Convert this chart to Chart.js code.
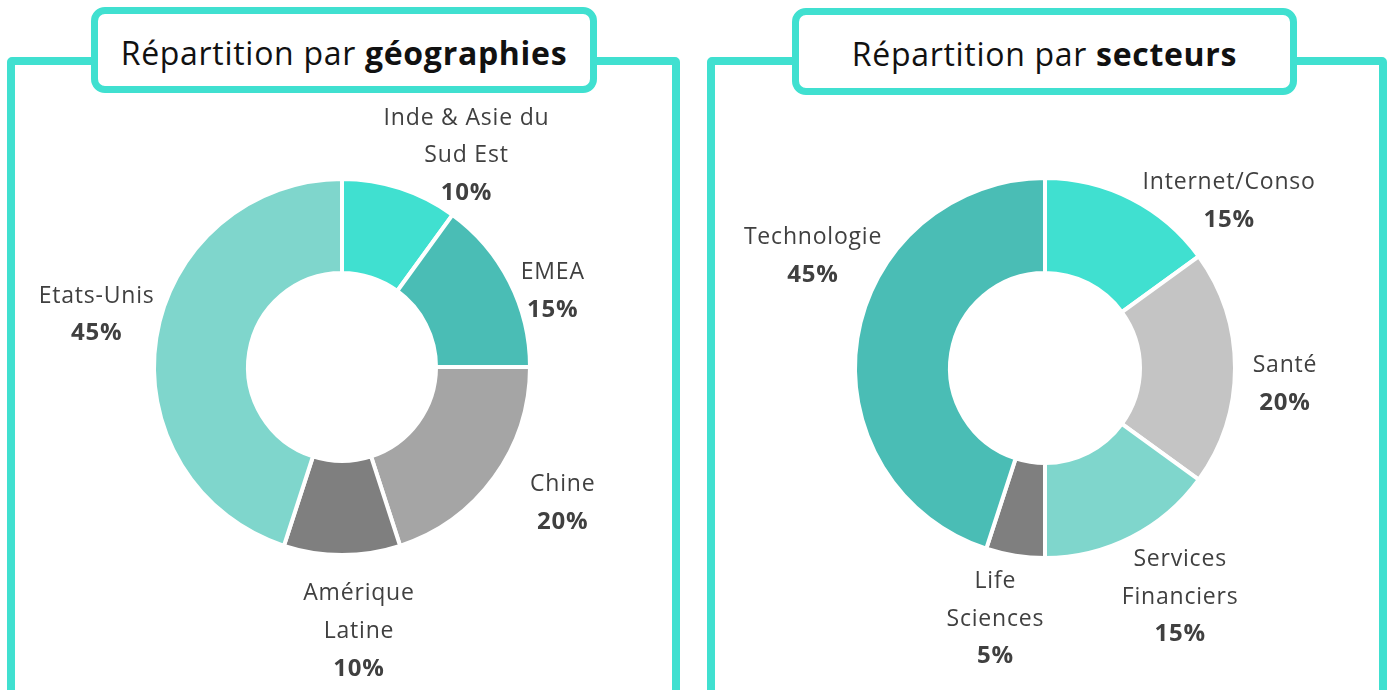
<!DOCTYPE html>
<html lang="fr">
<head>
<meta charset="utf-8">
<script src="https://cdn.jsdelivr.net/npm/chart.js@4.4.0/dist/chart.umd.min.js"></script>
<style>
  body { margin: 0; width: 1390px; height: 690px; overflow: hidden; background: #fff; position: relative; font-family: 'Open Sans', sans-serif; }
  .frame { position: absolute; box-sizing: border-box; border: 8px solid #40E0D0; border-radius: 5px; z-index: 1; }
  .tab { position: absolute; box-sizing: border-box; border: 7px solid #40E0D0; border-radius: 14px; background: #fff;
         display: flex; align-items: center; justify-content: center; font-size: 32px; letter-spacing: 0.7px; color: #111; z-index: 3; white-space: nowrap; padding-top: 4px; }
  .tab b { font-weight: 700; margin-left: 9px; }
  canvas { position: absolute; top: 0; z-index: 2; }
</style>
</head>
<body>
<div class="frame" style="left:7px; top:57px; width:673px; height:645px;"></div>
<div class="frame" style="left:707px; top:57px; width:680px; height:645px;"></div>
<div class="tab" style="left:91px; top:7px; width:506px; height:86px;">Répartition par<b>géographies</b></div>
<div class="tab" style="left:792px; top:8px; width:505px; height:87px;">Répartition par<b>secteurs</b></div>
<canvas id="geo-chart" width="695" height="690" style="left:0px;"></canvas>
<canvas id="sector-chart" width="695" height="690" style="left:695px;"></canvas>
<script>
// Geographies
const geoLabels = ['Inde & Asie du\nSud Est', 'EMEA', 'Chine', 'Amérique\nLatine', 'Etats-Unis'];
const geoValues = [10, 15, 20, 10, 45];
const geoColors = ['#40E0D0', '#4ABDB5', '#A5A5A5', '#7F7F7F', '#7FD6CC'];

// Sectors
const sectorLabels = ['Internet/Conso', 'Santé', 'Services\nFinanciers', 'Life\nSciences', 'Technologie'];
const sectorValues = [15, 20, 15, 5, 45];
const sectorColors = ['#40E0D0', '#C4C4C4', '#7FD6CC', '#7F7F7F', '#4ABDB5'];

// label placement tweaks (pixels, relative to the slice direction)
const geoNudges = [[49, 21], [-7, 35], [23, -7], [17, 20], [-4, -14]];
const sectorNudges = [[72, 53], [-7, 16], [23, 9], [-11, 7], [12, -73]];

// Draws category name + percentage outside each slice
const outsideLabels = {
  id: 'outsideLabels',
  afterDatasetsDraw(chart, args, opts) {
    const ctx = chart.ctx;
    const meta = chart.getDatasetMeta(0);
    const values = chart.data.datasets[0].data;
    const total = values.reduce((a, b) => a + b, 0);

    meta.data.forEach((arc, i) => {
      const p = arc.getProps(['x', 'y', 'startAngle', 'endAngle', 'outerRadius'], true);
      const mid = (p.startAngle + p.endAngle) / 2;
      const r = p.outerRadius * opts.distance;
      const nudge = opts.nudges[i] || [0, 0];
      const cx = p.x + Math.cos(mid) * r + nudge[0];
      const cy = p.y + Math.sin(mid) * r + nudge[1];

      const lines = String(chart.data.labels[i]).split('\n');
      const pct = Math.round(values[i] / total * 100) + '%';
      let y = cy - lines.length / 2 * opts.lineHeight;

      ctx.save();
      ctx.textAlign = 'center';
      ctx.textBaseline = 'middle';
      ctx.fillStyle = opts.color;
      ctx.font = opts.font;
      if ('letterSpacing' in ctx) ctx.letterSpacing = opts.spacing;
      lines.forEach(line => {
        ctx.fillText(line, cx, y);
        y += opts.lineHeight;
      });
      ctx.font = opts.boldFont;
      ctx.fillText(pct, cx, y);
      ctx.restore();
    });
  }
};

function renderDoughnut(canvasId, labels, values, colors, padding, nudges) {
  const ctx = document.getElementById(canvasId).getContext('2d');
  return new Chart(ctx, {
    type: 'doughnut',
    data: {
      labels: labels,
      datasets: [{
        data: values,
        backgroundColor: colors,
        borderColor: '#ffffff',
        borderWidth: 4
      }]
    },
    options: {
      responsive: false,
      animation: false,
      cutout: '50%',
      layout: { padding: padding },
      plugins: {
        legend: { display: false },
        tooltip: { enabled: false },
        outsideLabels: {
          distance: 1.3,
          nudges: nudges,
          lineHeight: 37.5,
          color: '#404040',
          spacing: '0.8px',
          font: '23px "Open Sans", sans-serif',
          boldFont: 'bold 24px "Open Sans", sans-serif'
        }
      }
    },
    plugins: [outsideLabels]
  });
}

renderDoughnut('geo-chart', geoLabels, geoValues, geoColors,
  { left: 152, top: 177, right: 163, bottom: 133 }, geoNudges);
renderDoughnut('sector-chart', sectorLabels, sectorValues, sectorColors,
  { left: 158, top: 176, right: 153, bottom: 130 }, sectorNudges);
</script>
</body>
</html>
